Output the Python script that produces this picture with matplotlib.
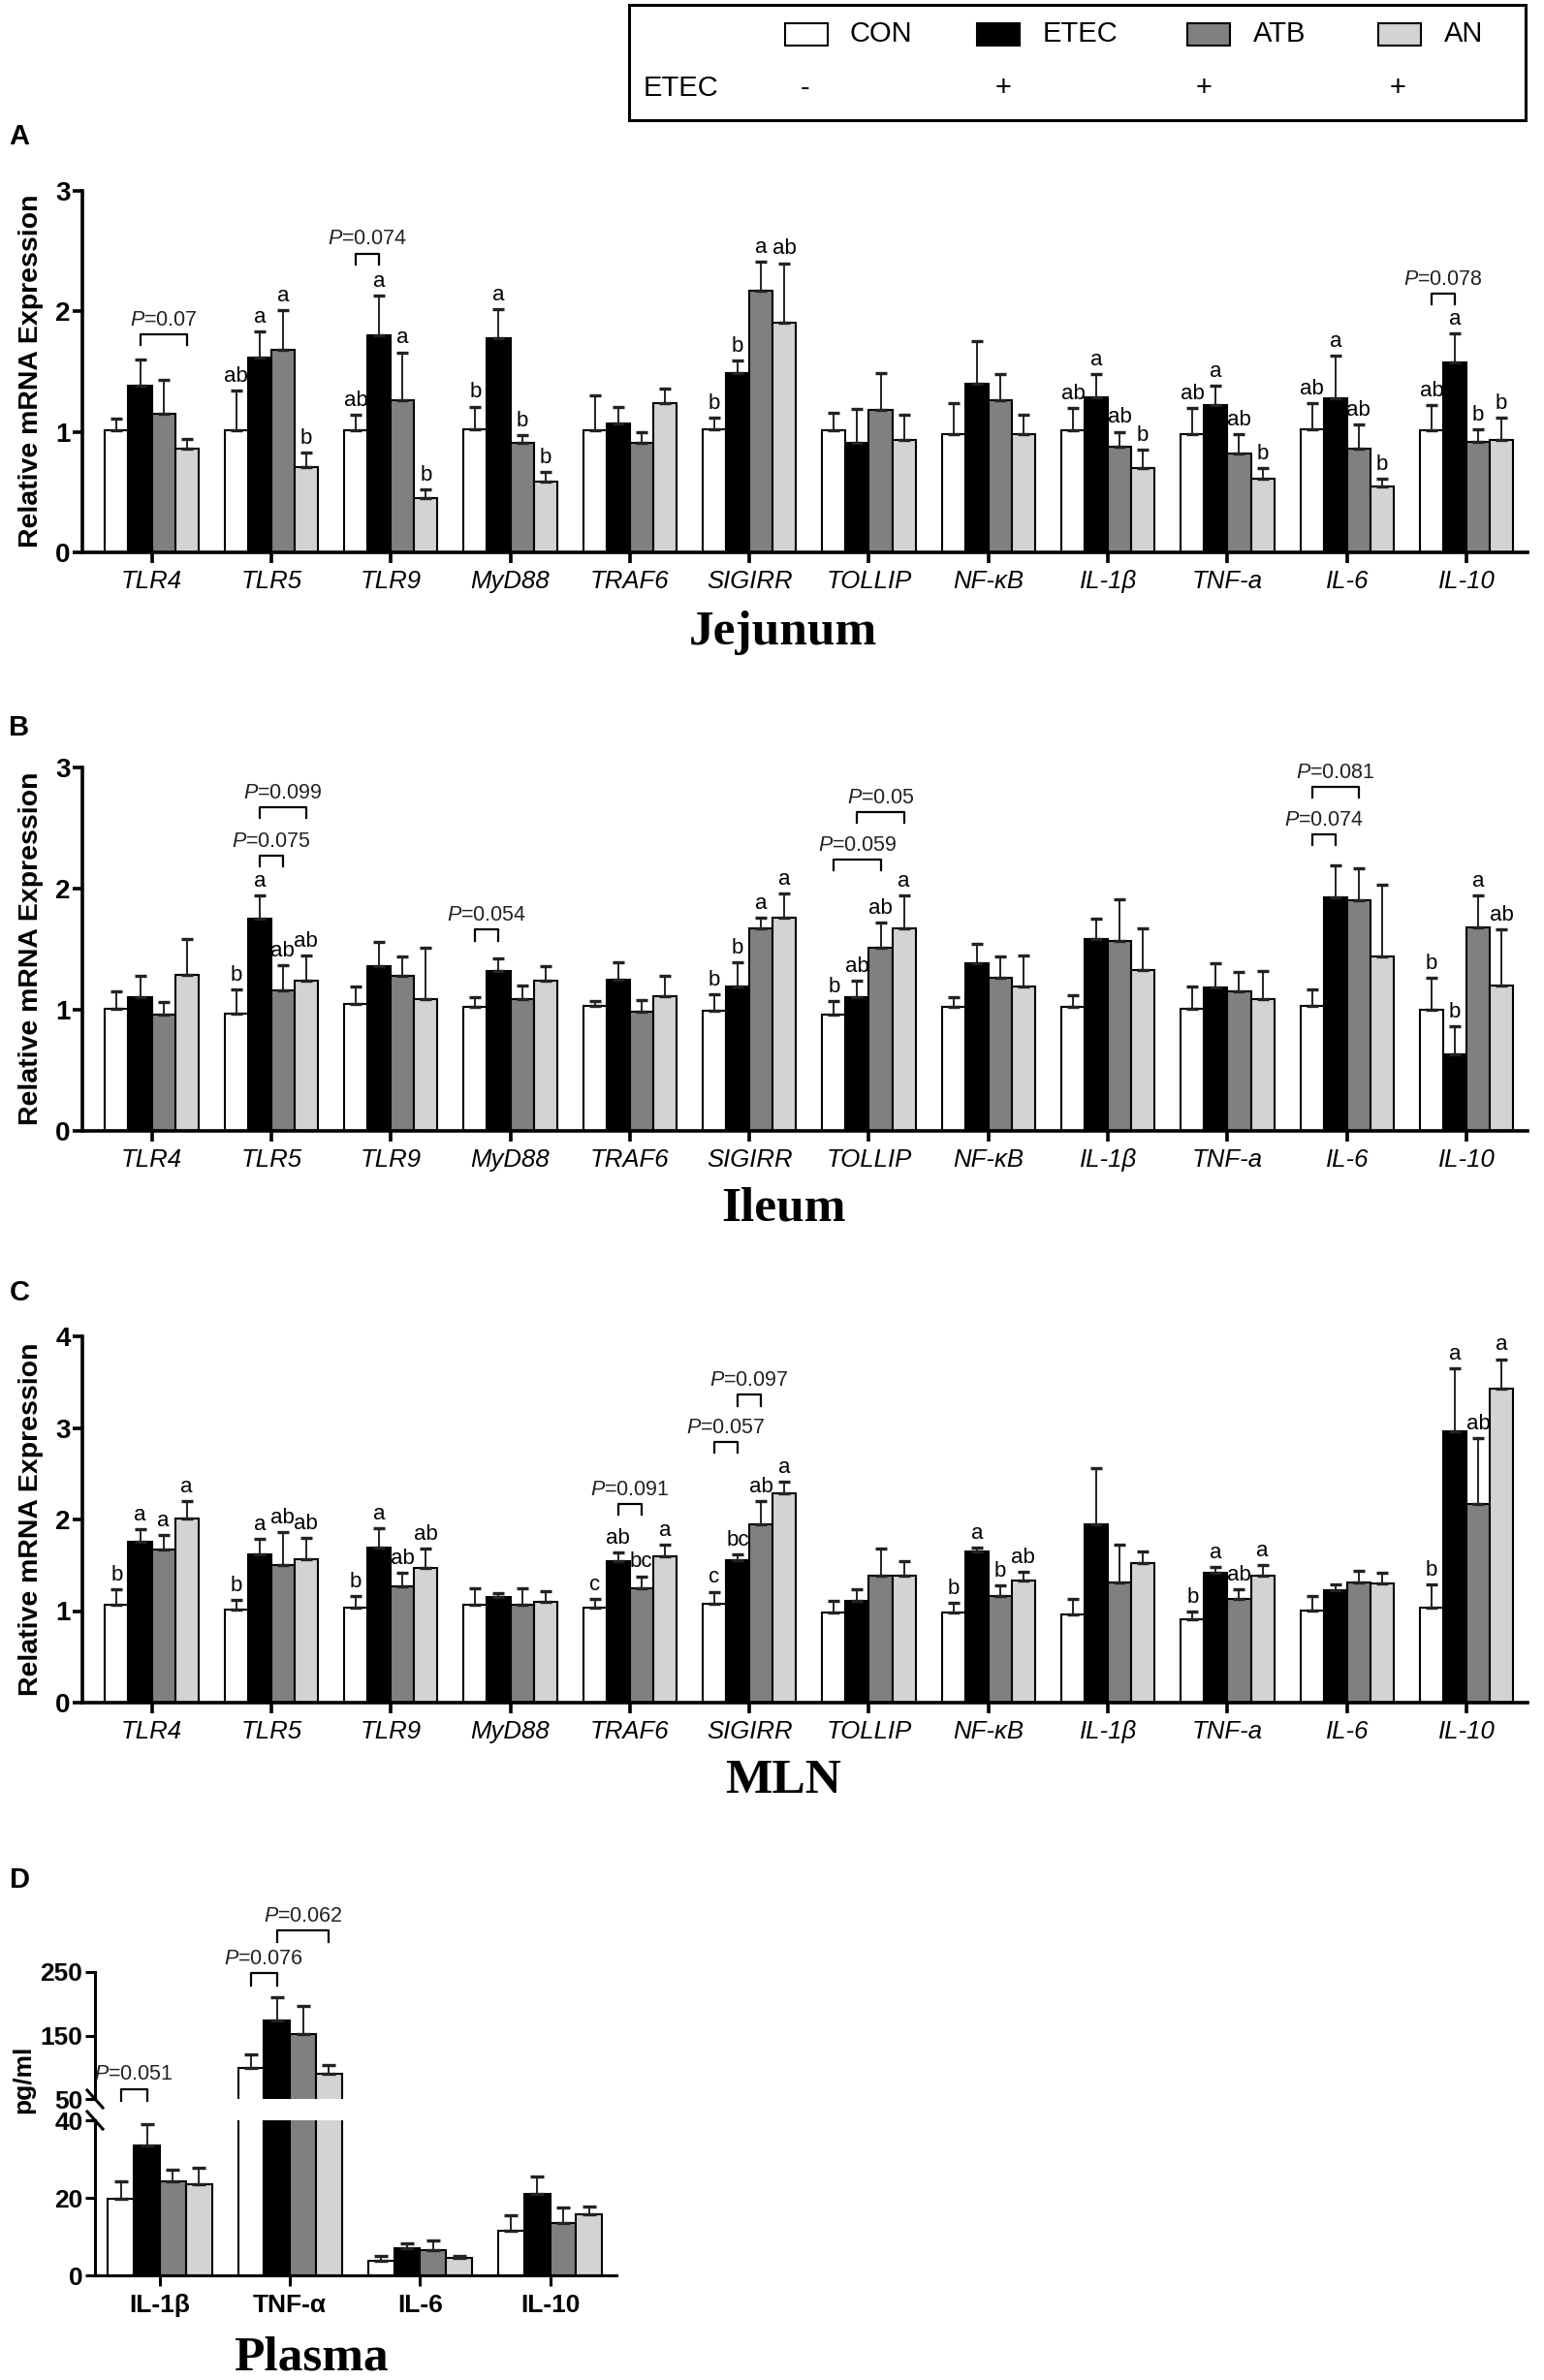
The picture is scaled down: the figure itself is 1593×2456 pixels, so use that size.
import numpy as np
import matplotlib
matplotlib.use("Agg")
import matplotlib.pyplot as plt
from matplotlib.patches import Rectangle

plt.rcParams['font.family'] = ['Liberation Sans', 'DejaVu Sans']
plt.rcParams['mathtext.fontset'] = 'custom'
plt.rcParams['mathtext.rm'] = 'Liberation Sans'
plt.rcParams['mathtext.it'] = 'Liberation Sans:italic'

genes = ['TLR4', 'TLR5', 'TLR9', 'MyD88', 'TRAF6', 'SIGIRR', 'TOLLIP',
         'NF-κB', 'IL-1β', 'TNF-a', 'IL-6', 'IL-10']
groups = ['CON', 'ETEC', 'ATB', 'AN']
etec_signs = ['-', '+', '+', '+']
colors = ['white', 'black', '#808080', '#d3d3d3']

# A - Jejunum
jej_con = [1.01, 1.01, 1.01, 1.02, 1.01, 1.02, 1.01, 0.98, 1.01, 0.98, 1.02, 1.01]
jej_etec = [1.38, 1.62, 1.80, 1.78, 1.07, 1.49, 0.91, 1.40, 1.29, 1.22, 1.28, 1.58]
jej_atb = [1.15, 1.68, 1.26, 0.91, 0.91, 2.17, 1.18, 1.26, 0.88, 0.82, 0.86, 0.92]
jej_an = [0.86, 0.71, 0.45, 0.59, 1.24, 1.91, 0.93, 0.98, 0.70, 0.61, 0.55, 0.93]
jej_con_se = [0.10, 0.33, 0.13, 0.19, 0.29, 0.10, 0.15, 0.26, 0.19, 0.22, 0.22, 0.21]
jej_etec_se = [0.22, 0.21, 0.33, 0.24, 0.14, 0.10, 0.28, 0.35, 0.19, 0.16, 0.35, 0.24]
jej_atb_se = [0.28, 0.33, 0.40, 0.06, 0.09, 0.24, 0.31, 0.22, 0.12, 0.16, 0.20, 0.10]
jej_an_se = [0.08, 0.12, 0.07, 0.08, 0.12, 0.49, 0.21, 0.16, 0.15, 0.09, 0.06, 0.19]
jej_letters = {1: ['ab', 'a', 'a', 'b'], 2: ['ab', 'a', 'a', 'b'], 3: ['b', 'a', 'b', 'b'],
               5: ['b', 'b', 'a', 'ab'], 8: ['ab', 'a', 'ab', 'b'], 9: ['ab', 'a', 'ab', 'b'],
               10: ['ab', 'a', 'ab', 'b'], 11: ['ab', 'a', 'b', 'b']}
jej_brackets = [(0, 1, 3, 1.81, '0.07'), (2, 0, 1, 2.48, '0.074'), (11, 0, 1, 2.15, '0.078')]

# B - Ileum
ile_con = [1.01, 0.97, 1.05, 1.02, 1.03, 0.99, 0.96, 1.02, 1.02, 1.01, 1.03, 1.00]
ile_etec = [1.10, 1.75, 1.36, 1.32, 1.25, 1.19, 1.10, 1.38, 1.58, 1.18, 1.93, 0.63]
ile_atb = [0.96, 1.16, 1.28, 1.09, 0.98, 1.67, 1.51, 1.26, 1.57, 1.15, 1.90, 1.68]
ile_an = [1.29, 1.24, 1.09, 1.24, 1.11, 1.76, 1.67, 1.19, 1.33, 1.09, 1.44, 1.20]
ile_con_se = [0.14, 0.20, 0.14, 0.08, 0.04, 0.14, 0.11, 0.08, 0.10, 0.18, 0.14, 0.26]
ile_etec_se = [0.18, 0.19, 0.20, 0.10, 0.14, 0.20, 0.14, 0.16, 0.17, 0.20, 0.26, 0.23]
ile_atb_se = [0.10, 0.21, 0.16, 0.11, 0.10, 0.09, 0.21, 0.18, 0.34, 0.16, 0.27, 0.26]
ile_an_se = [0.29, 0.21, 0.42, 0.12, 0.17, 0.20, 0.27, 0.26, 0.34, 0.23, 0.59, 0.46]
ile_letters = {1: ['b', 'a', 'ab', 'ab'], 5: ['b', 'b', 'a', 'a'],
               6: ['b', 'ab', 'ab', 'a'], 11: ['b', 'b', 'a', 'ab']}
ile_brackets = [(1, 1, 2, 2.27, '0.075'), (1, 1, 3, 2.67, '0.099'), (3, 0, 1, 1.66, '0.054'),
                (6, 0, 2, 2.24, '0.059'), (6, 1, 3, 2.63, '0.05'),
                (10, 0, 1, 2.45, '0.074'), (10, 0, 2, 2.84, '0.081')]

# C - MLN
mln_con = [1.07, 1.02, 1.04, 1.07, 1.04, 1.08, 0.98, 0.98, 0.96, 0.91, 1.01, 1.04]
mln_etec = [1.76, 1.62, 1.69, 1.15, 1.54, 1.56, 1.11, 1.65, 1.95, 1.42, 1.23, 2.96]
mln_atb = [1.67, 1.50, 1.27, 1.07, 1.25, 1.95, 1.39, 1.16, 1.31, 1.13, 1.31, 2.17]
mln_an = [2.01, 1.57, 1.47, 1.10, 1.60, 2.29, 1.39, 1.33, 1.52, 1.39, 1.30, 3.43]
mln_con_se = [0.17, 0.10, 0.12, 0.18, 0.09, 0.13, 0.13, 0.11, 0.17, 0.08, 0.15, 0.25]
mln_etec_se = [0.13, 0.17, 0.21, 0.05, 0.10, 0.06, 0.13, 0.04, 0.61, 0.06, 0.06, 0.69]
mln_atb_se = [0.16, 0.36, 0.15, 0.18, 0.13, 0.25, 0.29, 0.12, 0.42, 0.11, 0.13, 0.72]
mln_an_se = [0.19, 0.23, 0.21, 0.12, 0.12, 0.12, 0.15, 0.10, 0.13, 0.11, 0.12, 0.32]
mln_letters = {0: ['b', 'a', 'a', 'a'], 1: ['b', 'a', 'ab', 'ab'], 2: ['b', 'a', 'ab', 'ab'],
               4: ['c', 'ab', 'bc', 'a'], 5: ['c', 'bc', 'ab', 'a'], 7: ['b', 'a', 'b', 'ab'],
               9: ['b', 'a', 'ab', 'a'], 11: ['b', 'a', 'ab', 'a']}
mln_brackets = [(4, 1, 2, 2.17, '0.091'), (5, 0, 1, 2.85, '0.057'), (5, 1, 2, 3.36, '0.097')]

# D - Plasma (pg/ml)
cytokines = ['IL-1β', 'TNF-α', 'IL-6', 'IL-10']
pla_con = [19.8, 99.0, 3.8, 11.6]
pla_etec = [33.4, 174.0, 6.9, 21.1]
pla_atb = [24.2, 151.6, 6.4, 13.4]
pla_an = [23.5, 89.6, 4.4, 15.8]
pla_con_se = [4.4, 21.6, 1.3, 4.0]
pla_etec_se = [5.5, 37.0, 1.4, 4.4]
pla_atb_se = [3.0, 45.0, 2.6, 4.2]
pla_an_se = [4.2, 13.4, 0.7, 2.0]
pla_brackets = [(0, 0, 1, 66, '0.051'), (1, 0, 1, 248, '0.076'), (1, 1, 3, 316, '0.062')]

W, H = 1593, 2456
fig = plt.figure(figsize=(W / 100, H / 100), dpi=100)


def px_axes(l, t, r, b):
    return fig.add_axes([l / W, 1 - b / H, (r - l) / W, (b - t) / H])


def bars(ax, xpos, means, ses, bw, letters=None, capsize=4):
    offs = (np.arange(4) - 1.5) * bw
    for k in range(4):
        xs = xpos + offs[k]
        m = np.array(means[k])
        e = np.array(ses[k])
        ax.bar(xs, m, width=bw, color=colors[k], edgecolor='black', linewidth=1.5, zorder=2)
        ax.errorbar(xs, m, yerr=[np.zeros(len(m)), e], fmt='none', ecolor='#222222',
                    elinewidth=1.4, capsize=capsize, capthick=2.4, zorder=3)
        if letters:
            for i, labs in letters.items():
                if labs[k]:
                    ax.annotate(labs[k], (xs[i], m[i] + e[i]), xytext=(0, 3),
                                textcoords='offset points', ha='center', va='bottom',
                                fontsize=16)
    return offs


def bracket(ax, xpos, offs, spec, leg):
    g, i, j, y, p = spec
    x1, x2 = xpos[g] + offs[i], xpos[g] + offs[j]
    ax.plot([x1, x1, x2, x2], [y - leg, y, y, y - leg], color='black', lw=1.6,
            clip_on=False, zorder=4)
    ax.annotate(r'$\it{P}$=' + p, ((x1 + x2) / 2, y), xytext=(0, 3),
                textcoords='offset points', ha='center', va='bottom', fontsize=15.5,
                color='#222222', annotation_clip=False)


def gene_panel(ax, means, ses, letters, brks, ymax):
    x = np.arange(len(genes))
    offs = bars(ax, x, means, ses, 0.195, letters)
    for b in brks:
        bracket(ax, x, offs, b, 0.03 * ymax)
    ax.set_xlim(-0.58, 11.51)
    ax.set_ylim(0, ymax)
    ax.set_yticks(range(ymax + 1), [str(v) for v in range(ymax + 1)], fontweight='bold', fontsize=20)
    ax.set_xticks(x, genes, fontstyle='italic', fontsize=18.5)
    for s in ['top', 'right']:
        ax.spines[s].set_visible(False)
    for s in ['left', 'bottom']:
        ax.spines[s].set_linewidth(2.6)
    ax.tick_params(axis='y', length=7, width=2.6, pad=2)
    ax.tick_params(axis='x', length=8, width=2.6, pad=5)


axA = px_axes(85, 197, 1576, 570)
gene_panel(axA, [jej_con, jej_etec, jej_atb, jej_an],
           [jej_con_se, jej_etec_se, jej_atb_se, jej_an_se], jej_letters, jej_brackets, 3)
axB = px_axes(85, 792, 1576, 1167)
gene_panel(axB, [ile_con, ile_etec, ile_atb, ile_an],
           [ile_con_se, ile_etec_se, ile_atb_se, ile_an_se], ile_letters, ile_brackets, 3)
axC = px_axes(85, 1379, 1576, 1757)
gene_panel(axC, [mln_con, mln_etec, mln_atb, mln_an],
           [mln_con_se, mln_etec_se, mln_atb_se, mln_an_se], mln_letters, mln_brackets, 4)

# plasma panel with broken y axis
axU = px_axes(98, 2035, 636, 2166)
axL = px_axes(98, 2188, 636, 2348)
xd = np.arange(len(cytokines))
pm = [pla_con, pla_etec, pla_atb, pla_an]
pe = [pla_con_se, pla_etec_se, pla_atb_se, pla_an_se]
for ax in (axU, axL):
    offs_d = bars(ax, xd, pm, pe, 0.2, capsize=5)
    ax.set_xlim(-0.5, 3.51)
    for s in ['top', 'right']:
        ax.spines[s].set_visible(False)
    ax.spines['left'].set_linewidth(2.2)
    ax.spines['bottom'].set_linewidth(2.2)
    ax.tick_params(axis='y', length=7, width=2.2, pad=2)
axU.set_ylim(50, 250)
axU.set_yticks([50, 150, 250], ['50', '150', '250'], fontweight='bold', fontsize=19)
axU.spines['bottom'].set_visible(False)
axU.set_xticks([])
axL.set_ylim(0, 40)
axL.set_yticks([0, 20, 40], ['0', '20', '40'], fontweight='bold', fontsize=19)
axL.set_xticks(xd, cytokines, fontweight='bold', fontsize=19)
axL.tick_params(axis='x', length=8, width=2.2, pad=6)
for b in pla_brackets:
    bracket(axU, xd, offs_d, b, 19)
# break marks
for ax, hpx in ((axU, 131), (axL, 160)):
    yc = 0 if ax is axU else 1
    dx, dy = 8 / 538, 9 / hpx
    ax.plot([-dx, dx], [yc + dy, yc - dy], transform=ax.transAxes, color='black',
            lw=2.2, clip_on=False)

# overlay for labels and legend
ov = fig.add_axes([0, 0, 1, 1], zorder=10)
ov.set_xlim(0, W)
ov.set_ylim(H, 0)
ov.axis('off')
ov.patch.set_alpha(0)

for lab, y in zip(['A', 'B', 'C', 'D'], [141, 751, 1334, 1940]):
    ov.text(20, y, lab, fontsize=21, fontweight='bold', ha='center', va='center')
for title, y in zip(['Jejunum', 'Ileum', 'MLN'], [665, 1260, 1850]):
    ov.text(808, y, title, fontsize=37, fontweight='bold', family='Liberation Serif',
            ha='center', va='baseline')
ov.text(321, 2446, 'Plasma', fontsize=37, fontweight='bold', family='Liberation Serif',
        ha='center', va='baseline')
for y in [383, 979, 1568]:
    ov.text(32, y, 'Relative mRNA Expression', fontsize=20.5, fontweight='bold',
            rotation=90, ha='center', va='center')
ov.text(24, 2146, 'pg/ml', fontsize=19, fontweight='bold', rotation=90, ha='center', va='center')

# legend box
ov.add_patch(Rectangle((649, 5), 925, 119, fill=False, lw=2.2, edgecolor='black'))
patch_x = [810, 1008, 1225, 1422]
text_x = [877, 1076, 1293, 1490]
sign_x = [831, 1035, 1242, 1442]
for k in range(4):
    ov.add_patch(Rectangle((patch_x[k], 24), 44, 23, facecolor=colors[k],
                           edgecolor='black', lw=1.5))
    ov.text(text_x[k], 35, groups[k], fontsize=21, ha='left', va='center')
    ov.text(sign_x[k], 91, etec_signs[k], fontsize=21, ha='center', va='center')
ov.text(664, 91, 'ETEC', fontsize=21, ha='left', va='center')

fig.savefig('out.png', dpi=100)
